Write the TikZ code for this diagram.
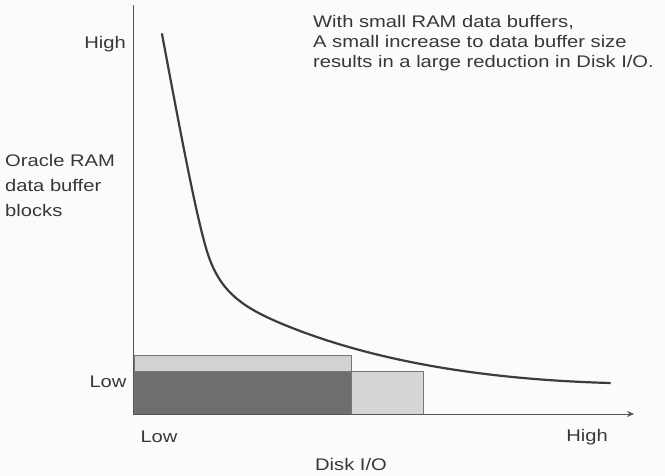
\documentclass[tikz,border=0pt]{standalone}
\usepackage{fontspec}
\setmainfont{Liberation Sans}[FakeStretch=1.2]
\usepackage{xcolor}
\usetikzlibrary{positioning,arrows.meta}
\definecolor{axisgray}{HTML}{555555}
\definecolor{curvegray}{HTML}{3C3C3C}
\definecolor{txtgray}{HTML}{383838}
\definecolor{bufdark}{HTML}{6E6E6E}
\definecolor{buflight}{HTML}{D6D6D6}
\definecolor{bufstrip}{HTML}{D2D2D2}

\begin{document}
\begin{tikzpicture}[x=1pt, y=-1pt,
   lbl/.style={text=txtgray, font=\fontsize{16.8}{20}\selectfont, inner sep=0pt},
   multi/.style={lbl, align=left, font=\fontsize{16.8}{20}\selectfont},
   bar/.style={draw=axisgray!80, line width=0.8pt},
   axis/.style={draw=axisgray, line width=0.9pt},
   >={Stealth[length=7pt, width=6pt]}]
  \useasboundingbox (0,0) rectangle (665,476);
  \fill[white!97!gray] (0,0) rectangle (665,476);

  % buffer blocks
  \filldraw[bar, fill=bufstrip] (134,355) rectangle (351,371);
  \filldraw[bar, fill=bufdark] (134,371) rectangle (351,414);
  \filldraw[bar, fill=buflight] (351,371) rectangle (423,414);

  % axes
  \coordinate (origin) at (133,414);
  \coordinate (ytop) at (133,5);
  \coordinate (xend) at (634,414);
  \draw[axis] (origin) -- (ytop);
  \draw[axis, ->] (origin) -- (xend);

  % buffer curve
  \coordinate (ctop) at (162,34);
  \coordinate (csteep) at (206,248);
  \coordinate (cknee) at (280,323);
  \coordinate (cend) at (610,383);
  \draw[curvegray, line width=2.2pt, line cap=round]
    (ctop) .. controls (180,130) and (195,210) .. (csteep)
           .. controls (218,290) and (240,306) .. (cknee)
           .. controls (380,365) and (500,380) .. (cend);

  % labels
  \node[lbl] (yhigh) at (105,44) {High};
  \node[lbl] (ylow) at (108,382) {Low};
  \node[multi, anchor=west] (ylabel) at (5,185) {Oracle RAM\\[5pt]data buffer\\[5pt]blocks};
  \node[lbl] (xlow) at (159,437) {Low};
  \node[lbl] (xhigh) at (587,437) {High};
  \node[lbl] (xlabel) at (351,464) {Disk I/O};
  \node[multi, anchor=north west] (note) at (313,15) {With small RAM data buffers,\\A small increase to data buffer size\\results in a large reduction in Disk I/O.};
\end{tikzpicture}
\end{document}
